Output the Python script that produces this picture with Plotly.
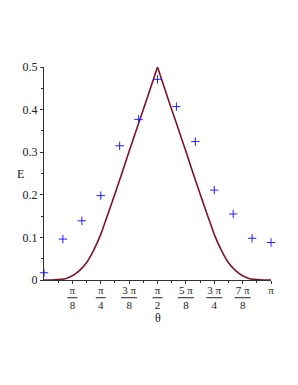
import numpy as np
import plotly.graph_objects as go

# ---- data ----
# analytic curve, theta in units of pi
curve_theta_pi = [0.000, 0.031, 0.063, 0.094, 0.125, 0.156, 0.188, 0.219, 0.250,
                  0.281, 0.313, 0.344, 0.375, 0.406, 0.438, 0.469, 0.500,
                  0.531, 0.562, 0.594, 0.625, 0.656, 0.687, 0.719, 0.750,
                  0.781, 0.812, 0.844, 0.875, 0.906, 0.937, 0.969, 1.000]
curve_E = [0.000, 0.000, 0.001, 0.003, 0.010, 0.022, 0.041, 0.070, 0.107,
           0.154, 0.203, 0.252, 0.302, 0.351, 0.401, 0.450, 0.500,
           0.450, 0.401, 0.351, 0.302, 0.252, 0.203, 0.154, 0.107,
           0.070, 0.041, 0.022, 0.010, 0.003, 0.001, 0.000, 0.000]

# simulated points, theta = k*pi/12
pts_k = [0, 1, 2, 3, 4, 5, 6, 7, 8, 9, 10, 11, 12]
pts_E = [0.017, 0.096, 0.139, 0.198, 0.315, 0.377, 0.471,
         0.407, 0.325, 0.211, 0.155, 0.098, 0.088]

x_tick_frac = [1/8, 1/4, 3/8, 1/2, 5/8, 3/4, 7/8, 1]
x_tick_num = ["π", "π", "3 π", "π", "5 π", "3 π", "7 π", "π"]
x_tick_den = ["8", "4", "8", "2", "8", "4", "8", ""]

y_tickvals = [0, 0.1, 0.2, 0.3, 0.4, 0.5]
y_ticktext = ["0", "0.1", "0.2", "0.3", "0.4", "0.5"]

# ---- build ----
ct = np.array(curve_theta_pi) * np.pi
ce = np.array(curve_E)
half = len(ct) // 2

pt = np.array(pts_k) * np.pi / 12

ticktext = [n + "<br>" + (d if d else "\u00a0") for n, d in zip(x_tick_num, x_tick_den)]

RED = "#7d1424"
BLUE = "#2020ff"
FONT = "Liberation Serif"
TXT = "#222"

PLOT_H = 212.7
fig = go.Figure()
fig.add_trace(go.Scatter(x=ct[:half + 1], y=ce[:half + 1], mode="lines",
                         line=dict(color=RED, width=1.6, shape="spline", smoothing=0.6),
                         showlegend=False, hoverinfo="skip"))
fig.add_trace(go.Scatter(x=ct[half:], y=ce[half:], mode="lines",
                         line=dict(color=RED, width=1.6, shape="spline", smoothing=0.6),
                         showlegend=False, hoverinfo="skip"))
fig.add_trace(go.Scatter(x=pt, y=pts_E, mode="markers",
                         marker=dict(symbol="cross-thin", size=6,
                                     line=dict(color=BLUE, width=1)),
                         showlegend=False, cliponaxis=False))

# fraction bars under the numerators
shapes = []
bar_y = -(297.7 - 280) / PLOT_H
for f, n, d in zip(x_tick_frac, x_tick_num, x_tick_den):
    if not d:
        continue
    halfw_px = 8 if len(n) > 1 else 5
    halfw = halfw_px / 226.7 * np.pi
    shapes.append(dict(type="line", xref="x", yref="paper",
                       x0=f * np.pi - halfw, x1=f * np.pi + halfw, y0=bar_y, y1=bar_y,
                       line=dict(color=TXT, width=1)))

fig.update_layout(
    width=290, height=377,
    margin=dict(l=36, r=27, t=59, b=105),
    paper_bgcolor="white", plot_bgcolor="white",
    font=dict(family=FONT, size=12, color=TXT),
    shapes=shapes,
    xaxis=dict(range=[0, np.pi], showgrid=False, zeroline=False,
               showline=True, linecolor="#333", linewidth=1,
               tickmode="array", tickvals=[f * np.pi for f in x_tick_frac],
               ticktext=ticktext, ticks="outside", ticklen=3, tickcolor="#333",
               tickangle=0, ticklabelstandoff=-3, tickfont=dict(size=11),
               minor=dict(tickmode="array",
                          tickvals=[(2 * i + 1) * np.pi / 16 for i in range(8)],
                          ticks="outside", ticklen=2, tickcolor="#333")),
    yaxis=dict(range=[0, 0.5], showgrid=False, zeroline=False,
               showline=True, linecolor="#333", linewidth=1,
               tickmode="array", tickvals=y_tickvals, ticktext=y_ticktext,
               ticks="outside", ticklen=3, tickcolor="#333",
               minor=dict(tickmode="array",
                          tickvals=[0.05, 0.15, 0.25, 0.35, 0.45],
                          ticks="outside", ticklen=2, tickcolor="#333")),
    annotations=[
        dict(text="E", xref="paper", yref="paper", x=0, y=0.5, xshift=-24,
             showarrow=False, xanchor="center", yanchor="middle",
             font=dict(family=FONT, size=12, color=TXT)),
        dict(text="θ", xref="paper", yref="paper", x=0.5, y=0, yshift=-38,
             showarrow=False, xanchor="center", yanchor="middle",
             font=dict(family=FONT, size=12, color=TXT)),
    ],
)

fig.write_html("out.html")
